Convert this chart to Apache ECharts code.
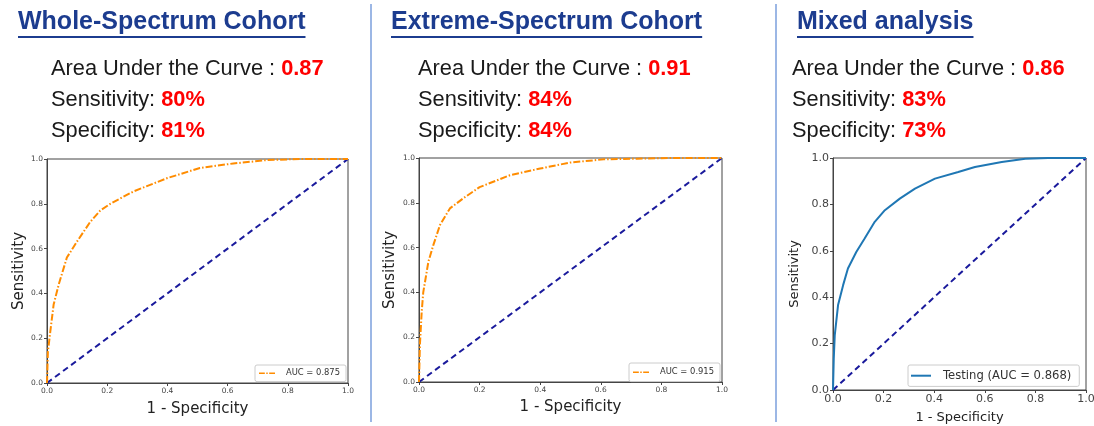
<!DOCTYPE html>
<html>
<head>
<meta charset="utf-8">
<script src="https://cdn.jsdelivr.net/npm/echarts@6/dist/echarts.min.js"></script>
<style>
  html, body { margin: 0; padding: 0; background: #fff; }
  #chart { width: 1094px; height: 426px; }
</style>
</head>
<body>
<div id="chart"></div>
<script type="text/javascript">
// panel headings and the three stat lines
var titles = ['Whole-Spectrum Cohort', 'Extreme-Spectrum Cohort', 'Mixed analysis'];
var aucText = ['0.87', '0.91', '0.86'];
var sensText = ['80%', '84%', '83%'];
var specText = ['81%', '84%', '73%'];
var legendNames = ['AUC = 0.875', 'AUC = 0.915', 'Testing (AUC = 0.868)'];

// ROC curves (x = 1 - specificity, y = sensitivity)
var fpr1 = [0, 0.003, 0.011, 0.022, 0.039, 0.066, 0.099, 0.144, 0.177, 0.21, 0.287, 0.398, 0.508, 0.619, 0.73, 0.84, 1.0];
var tpr1 = [0, 0.14, 0.23, 0.35, 0.44, 0.56, 0.63, 0.72, 0.77, 0.80, 0.855, 0.914, 0.96, 0.98, 0.995, 1.0, 1.0];
var fpr2 = [0, 0.003, 0.009, 0.014, 0.031, 0.047, 0.069, 0.102, 0.146, 0.2, 0.30, 0.40, 0.50, 0.61, 0.72, 0.83, 1.0];
var tpr2 = [0, 0.166, 0.315, 0.40, 0.537, 0.61, 0.70, 0.775, 0.82, 0.87, 0.923, 0.953, 0.98, 0.994, 0.997, 1.0, 1.0];
var fpr3 = [0, 0.003, 0.007, 0.02, 0.04, 0.059, 0.092, 0.125, 0.165, 0.205, 0.264, 0.324, 0.403, 0.495, 0.561, 0.667, 0.76, 0.85, 1.0];
var tpr3 = [0, 0.136, 0.237, 0.366, 0.452, 0.524, 0.595, 0.653, 0.725, 0.775, 0.825, 0.868, 0.911, 0.94, 0.961, 0.983, 0.997, 1.0, 1.0];
var diagX = [0, 1];
var diagY = [0, 1];

function zip(xs, ys) {
  return xs.map(function (x, i) { return [x, ys[i]]; });
}

var FONT = 'Arial, "Liberation Sans", sans-serif';
var PLOT_FONT = '"DejaVu Sans", sans-serif';   // matplotlib default
var measure = document.createElement('canvas').getContext('2d');
function textWidth(str, font) {
  measure.font = font;
  return measure.measureText(str).width;
}

// legend glyphs: dash-dot for the orange curves, plain bar for the blue one
var dashDotIcon = 'path://M0,0h8v2h-8z M10,0h2v2h-2z M14,0h8v2h-8z';
var solidIcon = 'path://M0,0h20v2h-20z';

// layout of each panel
var panels = [
  { titleX: 18, textX: 51, grid: { left: 47, top: 159, width: 301, height: 224 }, tickSize: 7.5, nameSize: 15, yGap: 20, xGap: 19,
    legend: { left: 255, top: 365, size: 8.4, iw: 16, pad: [2, 6, 2, 4], tpad: 6, icon: dashDotIcon }, color: '#ff8c00', dash: [7, 2, 1.5, 2] },
  { titleX: 391, textX: 418, grid: { left: 419, top: 158, width: 303, height: 224 }, tickSize: 7.5, nameSize: 15, yGap: 21, xGap: 18,
    legend: { left: 629, top: 363, size: 8.4, iw: 16, pad: [3, 6, 3, 4], tpad: 6, icon: dashDotIcon }, color: '#ff8c00', dash: [7, 2, 1.5, 2] },
  { titleX: 797, textX: 792, grid: { left: 833, top: 158, width: 253, height: 232 }, tickSize: 11, nameSize: 13, yGap: 32, xGap: 21,
    legend: { left: 908, top: 365, size: 11.6, iw: 26, pad: [2, 8, 2, 3], tpad: 4, icon: solidIcon }, color: '#1f77b4', dash: 'solid' }
];
var curves = [zip(fpr1, tpr1), zip(fpr2, tpr2), zip(fpr3, tpr3)];

var grids = [], xAxes = [], yAxes = [], series = [], legends = [], graphics = [];

panels.forEach(function (p, i) {
  grids.push({ left: p.grid.left, top: p.grid.top, width: p.grid.width, height: p.grid.height,
    containLabel: false, outerBoundsMode: 'none',
    show: true, borderColor: '#444', borderWidth: 1, backgroundColor: '#fff' });

  var axisCommon = {
    gridIndex: i, type: 'value', min: 0, max: 1, interval: 0.2,
    nameLocation: 'middle',
    nameTextStyle: { fontFamily: PLOT_FONT, fontSize: p.nameSize, color: '#222' },
    axisLine: { show: true, lineStyle: { color: '#444', width: 1 } },
    axisTick: { show: true, inside: false, length: 3, lineStyle: { color: '#444' } },
    axisLabel: { fontFamily: PLOT_FONT, fontSize: p.tickSize, color: '#444', margin: 4,
      formatter: function (v) { return v.toFixed(1); } },
    splitLine: { show: false }
  };
  xAxes.push(Object.assign({}, axisCommon, { name: '1 - Specificity', nameGap: p.xGap }));
  yAxes.push(Object.assign({}, axisCommon, { name: 'Sensitivity', nameGap: p.yGap }));

  series.push({
    name: legendNames[i], type: 'line', xAxisIndex: i, yAxisIndex: i,
    data: curves[i], showSymbol: false, symbol: 'none', smooth: false,
    lineStyle: { color: p.color, width: 2, type: p.dash },
    itemStyle: { color: p.color }, z: 3
  });
  series.push({
    name: 'chance' + i, type: 'line', xAxisIndex: i, yAxisIndex: i,
    data: zip(diagX, diagY), showSymbol: false, symbol: 'none',
    lineStyle: { color: '#1a1a9c', width: 2, type: [6, 4] }, z: 2, silent: true
  });

  legends.push({
    data: [{ name: legendNames[i], icon: p.legend.icon }],
    left: p.legend.left, top: p.legend.top, orient: 'vertical',
    itemWidth: p.legend.iw, itemHeight: 2, itemGap: 2,
    padding: p.legend.pad, borderColor: '#ccc', borderWidth: 1, borderRadius: 2,
    backgroundColor: '#fff', selectedMode: false,
    itemStyle: { color: p.color },
    textStyle: { fontFamily: PLOT_FONT, fontSize: p.legend.size, color: '#333',
      padding: [0, 0, 0, p.legend.tpad], lineHeight: p.legend.size * 1.5 }
  });

  // heading with underline
  var tFont = 'bold 25px ' + FONT;
  var tw = textWidth(titles[i], tFont);
  graphics.push({ type: 'text', left: p.titleX, top: 10,
    style: { text: titles[i], font: tFont, fill: '#1c3c8f' } });
  graphics.push({ type: 'rect', shape: { x: p.titleX, y: 36, width: tw, height: 2 },
    style: { fill: '#1c3c8f' } });

  var rows = [['Area Under the Curve : ', aucText[i]], ['Sensitivity: ', sensText[i]], ['Specificity: ', specText[i]]];
  rows.forEach(function (r, k) {
    graphics.push({ type: 'text', left: p.textX, top: 58 + k * 31,
      style: { text: '{a|' + r[0] + '}{b|' + r[1] + '}',
        rich: {
          a: { fontFamily: FONT, fontSize: 21.8, fill: '#1a1a1a', color: '#1a1a1a' },
          b: { fontFamily: FONT, fontSize: 21.8, fontWeight: 'bold', fill: '#ff0000', color: '#ff0000' }
        } } });
  });
});

// blue separators between panels
[371, 776].forEach(function (x) {
  graphics.push({ type: 'line', shape: { x1: x, y1: 4, x2: x, y2: 422 },
    style: { stroke: '#7b9fdc', lineWidth: 1.5 } });
});

var chart = echarts.init(document.getElementById('chart'), null, { renderer: 'canvas' });
chart.setOption({
  animation: false,
  backgroundColor: '#fff',
  grid: grids,
  xAxis: xAxes,
  yAxis: yAxes,
  legend: legends,
  series: series,
  graphic: graphics
});
</script>
</body>
</html>
